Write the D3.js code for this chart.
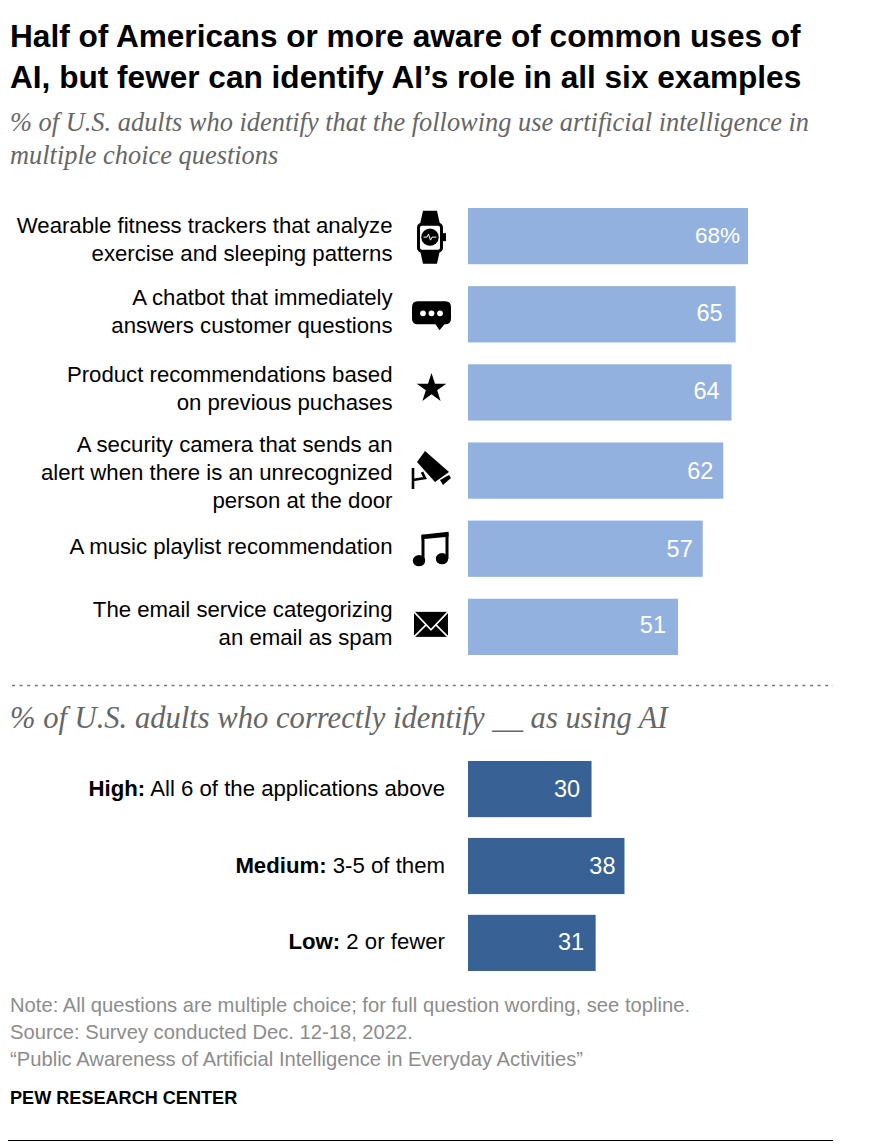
<!DOCTYPE html>
<html><head><meta charset="utf-8">
<script src="https://cdn.jsdelivr.net/npm/d3@7"></script>
<style>html,body{margin:0;padding:0;background:#fff}svg{display:block}
text{font-family:"Liberation Sans",Arial,sans-serif}
.serif{font-family:"Liberation Serif",serif;font-style:italic}</style>
</head><body><script>
const titleLines=["Half of Americans or more aware of common uses of","AI, but fewer can identify AI’s role in all six examples"];
const subtitleLines=["% of U.S. adults who identify that the following use artificial intelligence in","multiple choice questions"];
const subtitle2="% of U.S. adults who correctly identify __ as using AI";
const useCategories=[["Wearable fitness trackers that analyze","exercise and sleeping patterns"],["A chatbot that immediately","answers customer questions"],["Product recommendations based","on previous puchases"],["A security camera that sends an","alert when there is an unrecognized","person at the door"],["A music playlist recommendation"],["The email service categorizing","an email as spam"]];
const useValues=[68,65,64,62,57,51];
const useValueLabels=["68%","65","64","62","57","51"];
const iconNames=["watch","chat","star","camera","music","mail"];
const levelBold=["High:","Medium:","Low:"];
const levelRest=[" All 6 of the applications above"," 3-5 of them"," 2 or fewer"];
const levelValues=[30,38,31];
const notes=["Note: All questions are multiple choice; for full question wording, see topline.","Source: Survey conducted Dec. 12-18, 2022.","“Public Awareness of Artificial Intelligence in Everyday Activities”"];
const credit="PEW RESEARCH CENTER";

const svg=d3.select("body").append("svg").attr("width",870).attr("height",1144);
const x=d3.scaleLinear().domain([0,68]).range([468,748]);
const y1=d3.scaleBand().domain(d3.range(6)).range([208,655]).paddingInner(0.28).paddingOuter(0);
const y2=d3.scaleBand().domain(d3.range(3)).range([761,971]).paddingInner(0.27).paddingOuter(0);

svg.selectAll(".t").data(titleLines).join("text").attr("x",10).attr("y",(d,i)=>46.5+i*41)
 .attr("font-size",31.6).attr("font-weight",700).attr("fill","#000").text(d=>d);
svg.selectAll(".s").data(subtitleLines).join("text").attr("class","serif").attr("x",10).attr("y",(d,i)=>130.5+i*33)
 .attr("font-size",26.4).attr("fill","#666").text(d=>d);
svg.append("text").attr("class","serif").attr("x",10).attr("y",727.5).attr("font-size",30.6).attr("fill","#666").text(subtitle2);
svg.append("line").attr("x1",12).attr("x2",833).attr("y1",685.5).attr("y2",685.5).attr("stroke","#777").attr("stroke-width",1.6).attr("stroke-dasharray","3 4.6");

// bars
const valDx=[-8,-13,-12,-10,-10,-12], valDy=[6.5,7,6.5,8,8,6.5];
svg.selectAll(".b1").data(useValues).join("rect").attr("x",x(0)).attr("y",(d,i)=>y1(i)).attr("width",d=>x(d)-x(0)).attr("height",y1.bandwidth()).attr("fill","#92b1de");
svg.selectAll(".v1").data(useValues).join("text").attr("x",(d,i)=>x(d)+valDx[i]).attr("y",(d,i)=>y1(i)+y1.bandwidth()/2+valDy[i]).attr("text-anchor","end").attr("font-size",(d,i)=>i?23.5:22.5).attr("fill","#fff").text((d,i)=>useValueLabels[i]);
const lvlDx=[-11.5,-9,-11.5];
svg.selectAll(".b2").data(levelValues).join("rect").attr("x",x(0)).attr("y",(d,i)=>y2(i)).attr("width",d=>x(d)-x(0)).attr("height",y2.bandwidth()).attr("fill","#386195");
svg.selectAll(".v2").data(levelValues).join("text").attr("x",(d,i)=>x(d)+lvlDx[i]).attr("y",(d,i)=>y2(i)+y2.bandwidth()/2+7.5).attr("text-anchor","end").attr("font-size",23.5).attr("fill","#fff").text(d=>d);

// labels
const labelDy=[11,4.5,3.5,9.5,5.5,4];
useCategories.forEach((lines,i)=>{
  const cy=y1(i)+y1.bandwidth()/2, n=lines.length;
  lines.forEach((l,k)=>svg.append("text").attr("x",392.5).attr("y",cy+(k-(n-1)/2)*28+labelDy[i]).attr("text-anchor","end").attr("font-size",22.2).attr("fill","#000").text(l));
});
const lvlLabelDy=[7,7,6];
levelBold.forEach((b,i)=>{
  const t=svg.append("text").attr("x",445).attr("y",y2(i)+y2.bandwidth()/2+lvlLabelDy[i]).attr("text-anchor","end").attr("font-size",22.2).attr("fill","#000");
  t.append("tspan").attr("font-weight",700).text(b);
  t.append("tspan").text(levelRest[i]);
});

// icons, drawn in local coordinates around the row centre
const icons={
 watch:g=>{
  g.append("path").attr("d","M-7,-26.5 L7,-26.5 L10,-13 L-10,-13 Z M-10,13 L10,13 L7,26.5 L-7,26.5 Z").attr("fill","#000");
  g.append("rect").attr("x",-11.5).attr("y",-13).attr("width",23).attr("height",27).attr("rx",3.5).attr("fill","#fff").attr("stroke","#000").attr("stroke-width",3);
  g.append("rect").attr("x",13).attr("y",-4).attr("width",3).attr("height",8).attr("fill","#000");
  g.append("circle").attr("r",8.7).attr("fill","#000");
  g.append("path").attr("d","M-6.5,0 L-3,0 L-1.5,-3 L0.5,3 L2,0 L6.5,0").attr("fill","none").attr("stroke","#fff").attr("stroke-width",1);
 },
 chat:g=>{
  g.append("path").attr("d","M-14,-14 L14,-14 Q19.5,-14 19.5,-8 L19.5,3 Q19.5,9 14,9 L13,9 L8,15 L4,9 L-14,9 Q-19.5,9 -19.5,3 L-19.5,-8 Q-19.5,-14 -14,-14 Z").attr("fill","#000");
  g.selectAll("circle").data([-8.5,0,8.5]).join("circle").attr("cx",d=>d).attr("cy",-2).attr("r",2.9).attr("fill","#fff");
 },
 star:g=>{g.append("path").attr("d",d3.symbol(d3.symbolStar,271)).attr("fill","#000").attr("transform","translate(0.5,-5)");},
 camera:g=>{
  g.append("path").attr("d","M-6,-20.5 L18,0.5 L4,10.5 L-14,-9.5 Z").attr("fill","#000");
  g.append("path").attr("d","M9,8.5 L18,3.5 L20,6.5 L12,13.5 Z").attr("fill","#000");
  g.append("path").attr("d","M-18,-3.5 L-18,17.5 M-18,8.5 L-6,6.5 L-9,0.5").attr("fill","none").attr("stroke","#000").attr("stroke-width",2.6);
 },
 music:g=>{
  g.append("path").attr("d","M-8,11 L-8,-15 M16,9 L16,-17").attr("fill","none").attr("stroke","#000").attr("stroke-width",3);
  g.append("path").attr("d","M-9.5,-15 L17.5,-18 L17.5,-13 L-9.5,-10.5 Z").attr("fill","#000");
  g.append("ellipse").attr("cx",-12).attr("cy",11).attr("rx",6.2).attr("ry",5.6).attr("fill","#000");
  g.append("ellipse").attr("cx",11).attr("cy",9).attr("rx",6.2).attr("ry",5.6).attr("fill","#000");
 },
 mail:g=>{
  g.append("rect").attr("x",-17).attr("y",-16).attr("width",34).attr("height",25).attr("fill","#000");
  g.append("path").attr("d","M-17,-16 L0,2 L17,-16 M-17,9 L-5,-3 M17,9 L5,-3").attr("fill","none").attr("stroke","#fff").attr("stroke-width",1.6);
 }
};
const iconX=[430,431.5,431,431,431,431];
iconNames.forEach((n,i)=>{
  const g=svg.append("g").attr("transform",`translate(${iconX[i]},${y1(i)+y1.bandwidth()/2+1})`);
  icons[n](g);
});

// footer
svg.selectAll(".n").data(notes).join("text").attr("x",10).attr("y",(d,i)=>1011.5+i*27).attr("font-size",20.2).attr("fill","#8c8c8c").text(d=>d);
svg.append("text").attr("x",10).attr("y",1103.5).attr("font-size",18.1).attr("font-weight",700).attr("fill","#000").text(credit);
svg.append("line").attr("x1",8).attr("x2",833).attr("y1",1140.5).attr("y2",1140.5).attr("stroke","#000").attr("stroke-width",1);
</script></body></html>
